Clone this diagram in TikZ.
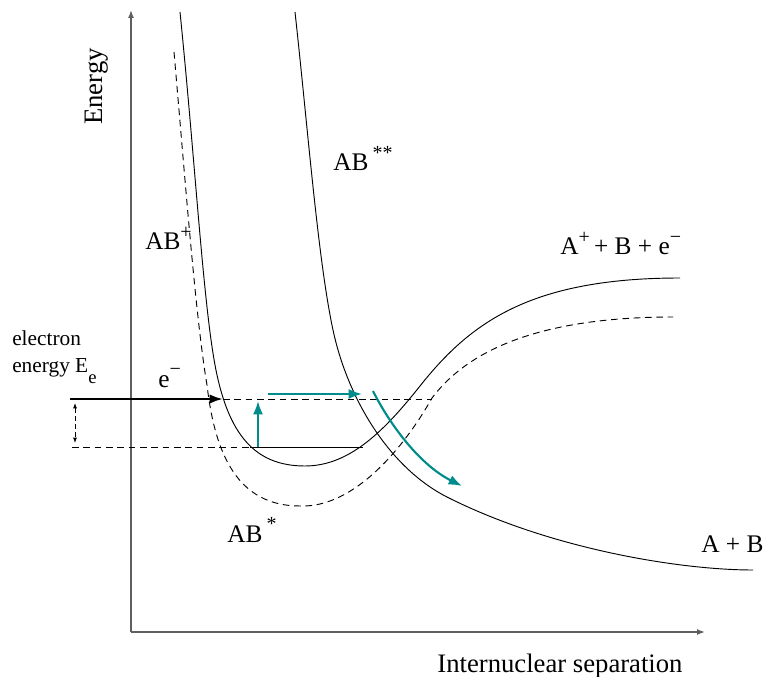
\documentclass[tikz,border=0pt]{standalone}
\usepackage{fontspec}
\setmainfont{Liberation Serif}
\usetikzlibrary{arrows.meta}
\definecolor{tealc}{RGB}{0,140,140}
\definecolor{axisgray}{RGB}{95,95,95}
\newcommand\hsup[1]{\raisebox{0.45em}{\fontsize{15}{15}\selectfont #1}}
\newcommand\hsub[1]{\raisebox{-0.55em}{\fontsize{14}{14}\selectfont #1}}
\begin{document}
\begin{tikzpicture}[x=0.75pt,y=-0.75pt,
  curve/.style={line width=0.7pt},
  dcurve/.style={line width=0.7pt, dash pattern=on 5pt off 3.5pt},
  axis/.style={axisgray, line width=1pt, -{Latex[length=6pt,width=4.5pt]}},
  tarrow/.style={tealc, line width=1.6pt, -{Latex[length=10pt,width=7.5pt]}},
  lbl/.style={font=\fontsize{19}{23}\selectfont, inner sep=0pt},
  big/.style={font=\fontsize{20}{24}\selectfont, inner sep=0pt},
  small/.style={font=\fontsize{16}{19}\selectfont, inner sep=0pt},
]
\useasboundingbox (0,0) rectangle (767,677);

% axes
\coordinate (O) at (131,632);
\coordinate (ytop) at (131,10);
\coordinate (xend) at (705,632);
\draw[axis] (O) -- (ytop);
\draw[axis] (O) -- (xend);

% AB+ (dashed)
\draw[dcurve] (174,52) .. controls (186,190) and (196,320) .. (207,385)
  .. controls (215,455) and (238,506) .. (300,506)
  .. controls (355,508) and (405,446) .. (432,398)
  .. controls (460,361) and (520,317) .. (673,317);

% AB* (solid well)
\draw[curve] (180,12) .. controls (195,160) and (203,300) .. (215,365)
  .. controls (228,435) and (255,466) .. (305,466)
  .. controls (350,466) and (385,430) .. (420,386)
  .. controls (470,323) and (530,278) .. (680,278);

% AB** (repulsive)
\draw[curve] (295,12) .. controls (308,130) and (318,260) .. (333,330)
  .. controls (348,400) and (390,468) .. (447,497)
  .. controls (550,549) and (680,570) .. (753,570);

% energy levels
\coordinate (eL) at (70,399);
\coordinate (eR) at (223,399);
\coordinate (uR) at (432,399);
\coordinate (lL) at (72,447);
\coordinate (lM) at (250,447);
\coordinate (lR) at (363,447);
\draw[line width=1.7pt, -{Latex[length=10pt,width=7pt]}] (eL) -- (eR);
\draw[dcurve] (eR) -- (uR);
\draw[dcurve] (lL) -- (lM);
\draw[curve] (lM) -- (lR);
\coordinate (dT) at (75,403);
\coordinate (dB) at (75,443);
\draw[line width=0.7pt, dash pattern=on 3.5pt off 2.5pt, {Latex[length=4pt,width=3pt]}-{Latex[length=4pt,width=3pt]}] (dT) -- (dB);

% teal arrows
\coordinate (vB) at (258,447);
\coordinate (vT) at (258,401);
\draw[tarrow] (vB) -- (vT);
\coordinate (hL) at (268,394);
\coordinate (hR) at (362,394);
\draw[tarrow] (hL) -- (hR);
\coordinate (cS) at (373,391);
\coordinate (cE) at (462,486);
\draw[tarrow] (cS) .. controls (390,425) and (420,465) .. (cE);

% labels
\node[big, anchor=base west, rotate=90] (ylab) at (102,125) {Energy};
\node[big, anchor=base] (xlab) at (560,672) {Internuclear separation};
\node[lbl, anchor=base west] (abplus) at (145,250) {AB\hsup{+}};
\node[lbl, anchor=base west] (abss) at (333,171) {AB\,\hsup{**}};
\node[lbl, anchor=base west] (abs) at (227,542) {AB\,\hsup{*}};
\node[lbl, anchor=base west] (ions) at (560,255) {A\hsup{+}\,+ B + e\hsup{−}};
\node[lbl, anchor=base west] (ab) at (701,552) {A + B};
\node[small, anchor=base west] (el1) at (12,345) {electron};
\node[small, anchor=base west] (el2) at (12,372) {energy E\hsub{e}};
\node[lbl, anchor=base west] (em) at (158,387) {e\hsup{−}};
\end{tikzpicture}
\end{document}
